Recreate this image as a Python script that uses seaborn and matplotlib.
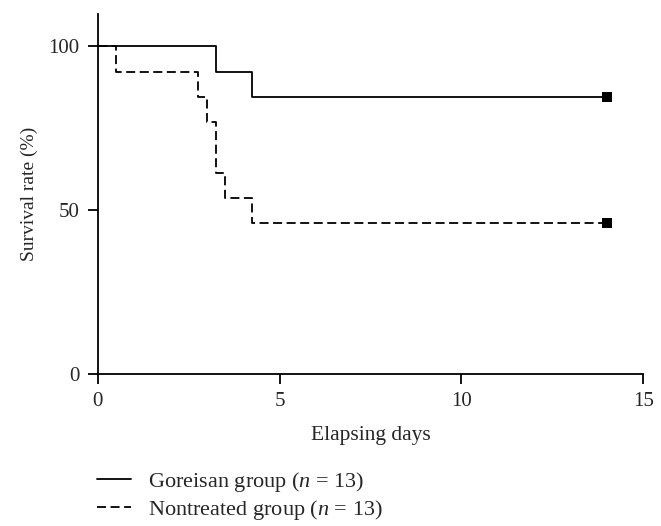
import pandas as pd
import matplotlib
matplotlib.use('Agg')
import matplotlib.pyplot as plt
import seaborn as sns

# Kaplan-Meier step data
goreisan_days = [0, 3.24, 4.25, 14]
goreisan_rate = [100, 92.3, 84.6, 84.6]
nontreated_days = [0, 0.5, 2.75, 3.0, 3.24, 3.5, 4.25, 14]
nontreated_rate = [100, 92.3, 84.6, 76.9, 61.5, 53.8, 46.2, 46.2]
labels = ['Goreisan group ($n$ = 13)', 'Nontreated group ($n$ = 13)']

df = pd.concat([
    pd.DataFrame({'day': goreisan_days, 'rate': goreisan_rate, 'group': labels[0]}),
    pd.DataFrame({'day': nontreated_days, 'rate': nontreated_rate, 'group': labels[1]}),
])
ends = df.groupby('group', sort=False).tail(1)

sns.set_style('ticks')
plt.rcParams['font.family'] = ['Liberation Serif', 'DejaVu Serif']
plt.rcParams['mathtext.fontset'] = 'custom'
plt.rcParams['mathtext.it'] = 'Liberation Serif:italic'

fig = plt.figure(figsize=(6.61, 5.26), dpi=100)
ax = fig.add_axes([0.148, 0.289, 0.825, 0.685])

sns.lineplot(data=df, x='day', y='rate', style='group', color='black',
             dashes={labels[0]: '', labels[1]: (5, 2.5)}, drawstyle='steps-post',
             estimator=None, sort=False, lw=1.3, ax=ax, legend=True)
sns.scatterplot(data=ends, x='day', y='rate', marker='s', color='black', s=45,
                linewidth=0, ax=ax, legend=False)

ax.set_xlim(0, 15)
ax.set_ylim(0, 110)
ax.set_xticks([0, 5, 10, 15])
ax.set_yticks([0, 50, 100])
ax.set_xlabel('Elapsing days', fontsize=15.5, labelpad=11)
ax.set_ylabel('Survival rate (%)', fontsize=14, labelpad=8)
ax.tick_params(labelsize=15, length=7, width=1.3, color='black', direction='out', pad=6)
for s in ['left', 'bottom']:
    ax.spines[s].set_linewidth(1.3)
    ax.spines[s].set_color('black')
ax.spines['left'].set_bounds(0, 110)
sns.despine(ax=ax)

handles, _ = ax.get_legend_handles_labels()
ax.get_legend().remove()
fig.legend(handles[-2:], labels, loc='center left', bbox_to_anchor=(0.147, 0.057),
           frameon=False, fontsize=16, handlelength=1.5, handletextpad=0.8,
           labelspacing=0.2, borderpad=0, borderaxespad=0)

fig.savefig('out.png', dpi=100)
